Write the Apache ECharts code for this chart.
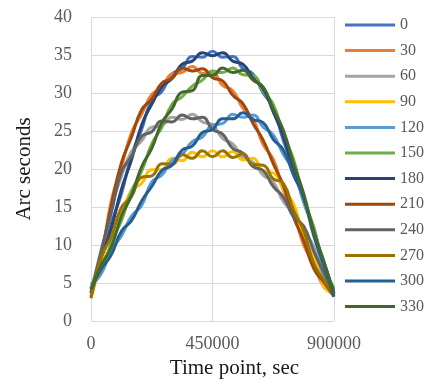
<!DOCTYPE html>
<html>
<head>
<meta charset="utf-8">
<script src="https://cdn.jsdelivr.net/npm/echarts@6/dist/echarts.min.js"></script>
<style>
html,body{margin:0;padding:0;background:#fff;}
#c{width:433px;height:385px;}
</style>
</head>
<body>
<div id="c"></div>
<script>
// Time points (sec)
const timePoints = [0, 37500, 75000, 112500, 150000, 187500, 225000, 262500, 300000, 337500, 375000, 412500, 450000, 487500, 525000, 562500, 600000, 637500, 675000, 712500, 750000, 787500, 825000, 862500, 900000];

// Series names (legend)
const seriesNames = ['0', '30', '60', '90', '120', '150', '180', '210', '240', '270', '300', '330'];

// Arc seconds per series
const s0   = [4.3, 7.7, 12.8, 16.7, 21.8, 25.2, 29.1, 30.2, 32.5, 33.2, 34.8, 34.7, 35.5, 34.7, 34.8, 33.2, 32.5, 30.0, 28.1, 23.7, 20.3, 15.7, 12.3, 7.2, 4.1];
const s30  = [3.8, 8.2, 15.8, 20.2, 24.8, 27.2, 29.8, 30.7, 32.5, 32.7, 33.5, 32.6, 32.6, 31.0, 30.3, 28.0, 26.6, 23.2, 21.3, 17.2, 14.3, 10.0, 7.5, 4.5, 3.8];
const s60  = [4.3, 8.7, 14.8, 19.0, 22.3, 23.7, 25.5, 25.7, 26.8, 26.5, 27.2, 26.2, 25.8, 24.0, 23.3, 21.5, 20.9, 19.2, 18.3, 15.7, 14.3, 11.9, 9.8, 5.7, 4.3];
const s90  = [3.0, 7.6, 11.9, 14.1, 17.2, 18.1, 19.9, 19.9, 21.4, 21.1, 22.2, 21.6, 22.4, 21.6, 22.3, 21.2, 21.4, 19.7, 19.5, 17.3, 15.4, 11.1, 8.4, 4.6, 3.5];
const s120 = [4.8, 6.2, 9.3, 11.2, 13.8, 15.2, 18.3, 19.2, 21.1, 21.9, 23.6, 24.2, 25.8, 26.0, 27.2, 26.8, 27.1, 25.5, 24.5, 21.9, 19.8, 15.7, 11.8, 6.7, 3.8];
const s150 = [4.8, 6.7, 10.3, 13.2, 17.1, 19.7, 23.3, 25.5, 28.5, 29.5, 30.9, 31.7, 32.9, 32.7, 33.3, 32.4, 32.3, 30.2, 28.5, 24.5, 21.3, 16.2, 12.3, 7.2, 4.3];
const s180 = [3.7, 8.3, 12.2, 17.3, 21.2, 25.8, 28.5, 30.8, 31.9, 33.8, 34.2, 35.3, 34.9, 35.3, 34.2, 33.8, 31.9, 30.6, 27.5, 24.3, 19.7, 16.3, 11.7, 7.8, 3.5];
const s210 = [3.2, 8.8, 15.2, 20.8, 24.2, 27.8, 29.2, 31.3, 31.9, 33.3, 32.9, 33.2, 32.0, 31.6, 29.7, 28.6, 26.0, 23.8, 20.7, 17.8, 13.7, 10.6, 6.9, 5.1, 3.2];
const s240 = [3.7, 9.3, 14.2, 19.6, 21.7, 24.3, 24.9, 26.3, 26.2, 27.1, 26.6, 26.8, 25.2, 24.6, 22.7, 22.1, 20.3, 19.8, 17.7, 16.3, 13.7, 12.5, 9.2, 6.3, 3.7];
const s270 = [3.0, 8.4, 11.1, 14.9, 16.4, 18.9, 19.1, 20.7, 20.6, 21.9, 21.4, 22.4, 21.6, 22.4, 21.5, 22.0, 20.6, 20.5, 18.7, 18.1, 14.6, 11.9, 7.6, 5.4, 3.5];
const s300 = [4.2, 6.8, 8.7, 11.8, 13.2, 15.8, 17.7, 19.8, 20.5, 22.5, 23.0, 24.8, 25.2, 26.6, 26.6, 27.4, 26.5, 26.1, 23.9, 22.5, 19.2, 16.3, 11.2, 7.3, 3.2];
const s330 = [4.2, 7.3, 9.7, 13.8, 16.5, 20.3, 22.7, 26.1, 27.9, 30.1, 30.3, 32.3, 32.3, 33.3, 32.7, 33.0, 31.7, 30.8, 27.9, 25.1, 20.7, 16.8, 11.7, 7.8, 3.7];

const seriesValues = [s0, s30, s60, s90, s120, s150, s180, s210, s240, s270, s300, s330];

// Axis ticks
const xTicks = [0, 450000, 900000];
const yTicks = [0, 5, 10, 15, 20, 25, 30, 35, 40];

const colors = ['#4472C4', '#ED7D31', '#A5A5A5', '#FFC000', '#5B9BD5', '#70AD47',
                '#264478', '#9E480E', '#636363', '#997300', '#255E91', '#43682B'];

const FONT = '"Liberation Serif", "Times New Roman", serif';

const chart = echarts.init(document.getElementById('c'), null, {renderer: 'canvas'});

const series = seriesNames.map((name, k) => ({
  name: name,
  type: 'line',
  data: timePoints.map((t, i) => [t, seriesValues[k][i]]),
  smooth: 0.5,
  symbol: 'none',
  lineStyle: {width: 3, color: colors[k]},
  itemStyle: {color: colors[k]},
  emphasis: {disabled: true}
}));

chart.setOption({
  animation: false,
  backgroundColor: '#fff',
  color: colors,
  grid: {left: 91, right: 99, top: 17, bottom: 64},
  legend: {
    orient: 'vertical',
    left: 345,
    top: 17,
    padding: 0,
    itemWidth: 50,
    itemHeight: 16,
    itemGap: 9.6,
    icon: 'path://M0,7 L50,7 L50,10 L0,10 Z',
    textStyle: {fontFamily: FONT, fontSize: 16, color: '#595959'},
    data: seriesNames
  },
  xAxis: {
    type: 'value',
    min: xTicks[0],
    max: xTicks[xTicks.length - 1],
    interval: xTicks[1] - xTicks[0],
    name: 'Time point, sec',
    nameLocation: 'middle',
    nameGap: 27,
    nameTextStyle: {fontFamily: FONT, fontSize: 21, color: '#1a1a1a', padding: [0, 0, 0, 44]},
    axisLine: {show: false},
    axisTick: {show: false},
    axisLabel: {fontFamily: FONT, fontSize: 18, color: '#595959', margin: 14,
      formatter: (v) => String(v)},
    splitLine: {show: true, lineStyle: {color: '#d9d9d9', width: 1}}
  },
  yAxis: {
    type: 'value',
    min: yTicks[0],
    max: yTicks[yTicks.length - 1],
    interval: yTicks[1] - yTicks[0],
    name: 'Arc seconds',
    nameLocation: 'middle',
    nameGap: 56,
    nameTextStyle: {fontFamily: FONT, fontSize: 21, color: '#1a1a1a'},
    axisLine: {show: false},
    axisTick: {show: false},
    axisLabel: {fontFamily: FONT, fontSize: 18, color: '#595959', margin: 19},
    splitLine: {show: true, lineStyle: {color: '#d9d9d9', width: 1}}
  },
  series: series
});
</script>
</body>
</html>
